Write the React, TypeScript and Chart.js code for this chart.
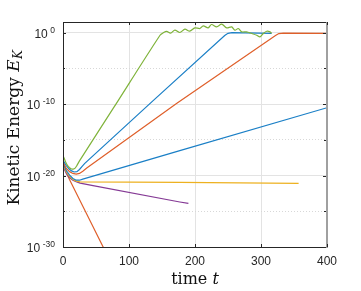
import React, { useEffect, useRef } from "react";
import { Chart, registerables } from "chart.js";

Chart.register(...registerables);

// time values (t) and log10 of kinetic energy for each curve
const greenT = [1, 4, 7, 10, 13, 15.5, 18, 21, 25, 76, 147, 152, 157, 163, 169.5, 177, 184.7, 192, 199.8, 207.4, 212.5, 220, 225, 232.8, 240.4, 248, 255.5, 260.5, 265.6, 270.7, 278, 286, 293.5, 298.5, 303.5, 308.6, 313.7, 316];
const greenLogE = [-17.4, -18.1, -18.6, -18.9, -19.08, -19.1, -19.0, -18.6, -17.95, -10.6, -0.35, 0.0, 0.2, -0.05, 0.35, 0.03, 0.5, 0.21, 0.68, 0.59, 0.96, 0.68, 1.15, 0.82, 1.2, 0.68, 0.82, 0.35, 0.59, 0.12, 0.12, -0.11, -0.35, -0.58, -0.11, 0.21, 0.12, -0.11];

const blueFastT = [1, 5, 9, 13, 17, 21, 25, 29, 33, 136.6, 245, 250, 256, 316];
const blueFastLogE = [-18.0, -18.6, -19.05, -19.35, -19.5, -19.45, -19.15, -18.7, -18.3, -9.5, -0.4, -0.08, 0.0, -0.1];

const orangeGrowT = [1, 5, 10, 15, 20, 25, 30, 36, 172, 322, 327, 334, 400];
const orangeGrowLogE = [-18.3, -19.0, -19.45, -19.7, -19.8, -19.7, -19.4, -18.95, -9.9, -0.4, -0.12, -0.05, -0.1];

const blueSlowT = [1, 5, 10, 15, 20, 25, 30, 177, 400];
const blueSlowLogE = [-18.5, -19.3, -19.95, -20.4, -20.65, -20.65, -20.5, -16.5, -10.5];

const yellowT = [1, 5, 10, 15, 20, 26, 177, 357];
const yellowLogE = [-18.7, -19.5, -20.15, -20.55, -20.78, -20.88, -20.95, -21.1];

const purpleT = [1, 5, 10, 15, 20, 26, 45.5, 177, 190];
const purpleLogE = [-18.9, -19.7, -20.3, -20.65, -20.85, -21.05, -21.4, -23.7, -23.9];

const orangeDecayT = [1, 3, 6, 10, 63];
const orangeDecayLogE = [-18.2, -18.9, -19.8, -20.6, -30.4];

const xTickValues = [0, 100, 200, 300, 400];
const yTickExponents = [-30, -25, -20, -15, -10, -5, 0];
const yLabelExponents = [-30, -20, -10, 0];

const toPoints = (t: number[], e: number[]) => t.map((x, i) => ({ x, y: Math.pow(10, e[i]) }));

const isMajorExp = (v: number) => {
  const e = Math.round(Math.log10(v));
  return e % 10 === 0;
};

const TICK_FONT = "'Liberation Sans', Arial, sans-serif";

const framePlugin = {
  id: "matlabFrame",
  afterDatasetsDraw(chart: any) {
    const { ctx, chartArea } = chart;
    const { left, right, top, bottom } = chartArea;
    const xs = chart.scales.x;
    const ys = chart.scales.y;
    ctx.save();
    ctx.strokeStyle = "#262626";
    ctx.lineWidth = 1;
    ctx.beginPath();
    ctx.moveTo(left + 0.5, top + 0.5);
    ctx.lineTo(left + 0.5, bottom + 0.5);
    ctx.lineTo(right, bottom + 0.5);
    ctx.moveTo(left, top + 0.5);
    ctx.lineTo(right, top + 0.5);
    ctx.stroke();
    ctx.strokeStyle = "#a0a0a0";
    ctx.lineWidth = 2;
    ctx.beginPath();
    ctx.moveTo(right, top);
    ctx.lineTo(right, bottom + 1);
    ctx.stroke();
    ctx.strokeStyle = "#262626";
    ctx.lineWidth = 1;
    ctx.beginPath();
    xTickValues.forEach((v) => {
      const px = Math.round(xs.getPixelForValue(v)) + 0.5;
      ctx.moveTo(px, bottom);
      ctx.lineTo(px, bottom - 3);
      ctx.moveTo(px, top);
      ctx.lineTo(px, top + 3);
    });
    yTickExponents.forEach((e) => {
      const py = Math.round(ys.getPixelForValue(Math.pow(10, e))) + 0.5;
      const len = e % 10 === 0 ? 3 : 2;
      ctx.moveTo(left, py);
      ctx.lineTo(left + len, py);
      ctx.moveTo(right - 1, py);
      ctx.lineTo(right - 1 - len, py);
    });
    ctx.stroke();
    ctx.restore();
  },
  afterDraw(chart: any) {
    const { ctx, chartArea } = chart;
    const ys = chart.scales.y;
    ctx.save();
    ctx.fillStyle = "#262626";
    ctx.textBaseline = "alphabetic";
    ctx.textAlign = "left";
    yLabelExponents.forEach((e) => {
      const py = ys.getPixelForValue(Math.pow(10, e));
      const expStr = String(e);
      ctx.font = `8.5px ${TICK_FONT}`;
      const we = ctx.measureText(expStr).width;
      ctx.font = `12px ${TICK_FONT}`;
      const w10 = ctx.measureText("10").width;
      const rightEdge = chartArea.left - 8;
      const xe = rightEdge - we;
      const x10 = xe - 2.5 - w10;
      ctx.fillText("10", x10, py + 5);
      ctx.font = `8.5px ${TICK_FONT}`;
      ctx.fillText(expStr, xe, py);
    });

    ctx.fillStyle = "#111";
    const normal = "16px 'DejaVu Serif'";
    const italic = "italic 16px 'DejaVu Serif'";
    ctx.font = normal;
    const w1 = ctx.measureText("time ").width;
    ctx.font = italic;
    const w2 = ctx.measureText("t").width;
    const cx = (chartArea.left + chartArea.right) / 2;
    const x0 = cx - (w1 + w2) / 2;
    ctx.font = normal;
    ctx.fillText("time ", x0, 284);
    ctx.font = italic;
    ctx.fillText("t", x0 + w1, 284);

    const yNormal = "17px 'DejaVu Serif'";
    const yItalic = "italic 17px 'DejaVu Serif'";
    const ySmall = "italic 12px 'DejaVu Serif'";
    ctx.translate(19, 128);
    ctx.rotate(-Math.PI / 2);
    ctx.font = yNormal;
    const a = ctx.measureText("Kinetic Energy ").width;
    ctx.font = yItalic;
    const b = ctx.measureText("E").width;
    ctx.font = ySmall;
    const c = ctx.measureText("K").width;
    const y0 = -(a + b + c) / 2;
    ctx.font = yNormal;
    ctx.fillText("Kinetic Energy ", y0, 0);
    ctx.font = yItalic;
    ctx.fillText("E", y0 + a, 0);
    ctx.font = ySmall;
    ctx.fillText("K", y0 + a + b + 0.5, 3);
    ctx.restore();
  },
};

export default function App() {
  const ref = useRef<HTMLCanvasElement | null>(null);
  useEffect(() => {
    if (!ref.current) return;
    const mk = (label: string, t: number[], e: number[], color: string, tension = 0) => ({
      label,
      data: toPoints(t, e),
      borderColor: color,
      backgroundColor: color,
      borderWidth: 1.2,
      pointRadius: 0,
      fill: false,
      tension,
    });
    const chart = new Chart(ref.current, {
      type: "line",
      data: {
        datasets: [
          mk("green", greenT, greenLogE, "#7fb33a", 0.3),
          mk("blue fast", blueFastT, blueFastLogE, "#1a7fc6"),
          mk("orange grow", orangeGrowT, orangeGrowLogE, "#df5f2a"),
          mk("blue slow", blueSlowT, blueSlowLogE, "#1a7fc6"),
          mk("yellow", yellowT, yellowLogE, "#EDB120"),
          mk("purple", purpleT, purpleLogE, "#853a95"),
          mk("orange decay", orangeDecayT, orangeDecayLogE, "#df5f2a"),
        ],
      },
      options: {
        animation: false,
        responsive: true,
        maintainAspectRatio: false,
        layout: { padding: { top: 22, right: 34, left: 0, bottom: 0 } },
        plugins: { legend: { display: false }, tooltip: { enabled: false } },
        scales: {
          x: {
            type: "linear",
            min: 0,
            max: 400,
            afterBuildTicks: (s: any) => {
              s.ticks = xTickValues.map((v) => ({ value: v }));
            },
            afterFit: (s: any) => {
              s.height = 44;
            },
            ticks: {
              font: { family: TICK_FONT, size: 12 },
              color: "#262626",
              padding: 7,
              maxRotation: 0,
              autoSkip: false,
            },
            grid: { color: "#e3e3e3", lineWidth: 1, drawTicks: false },
            border: { display: false },
          },
          y: {
            type: "logarithmic",
            min: 1e-30,
            max: Math.pow(10, 1.5),
            afterBuildTicks: (s: any) => {
              s.ticks = yTickExponents.map((e) => ({ value: Math.pow(10, e) }));
            },
            afterFit: (s: any) => {
              s.width = 63;
            },
            ticks: {
              display: false,
              autoSkip: false,
            },
            grid: {
              color: (c: any) => (c.tick && !isMajorExp(c.tick.value) ? "#d8d8d8" : "#e3e3e3"),
              lineWidth: 1,
              drawTicks: false,
            },
            border: {
              display: false,
              dash: (c: any) => (c.tick && !isMajorExp(c.tick.value) ? [1, 2] : []),
            },
          },
        },
      },
      plugins: [framePlugin],
    });
    return () => chart.destroy();
  }, []);
  return (
    <div style={{ position: "fixed", left: 0, top: 0, width: 361, height: 291, background: "#fff" }}>
      <canvas ref={ref} />
    </div>
  );
}
